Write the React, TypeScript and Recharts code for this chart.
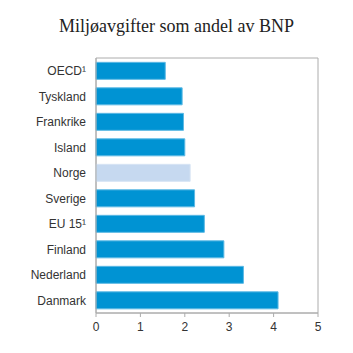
import { BarChart, Bar, XAxis, YAxis, Cell, ReferenceArea } from 'recharts';

const countries = ['OECD¹', 'Tyskland', 'Frankrike', 'Island', 'Norge', 'Sverige', 'EU 15¹', 'Finland', 'Nederland', 'Danmark'];
const shares = [1.56, 1.94, 1.97, 2.0, 2.12, 2.22, 2.44, 2.88, 3.32, 4.1];
const xTicks = [0, 1, 2, 3, 4, 5];
const highlight = 'Norge';

const data = countries.map((name, i) => ({ name, value: shares[i] }));

const FRAME = '#acacac';
const FONT = '"Liberation Sans", Arial, sans-serif';

export default function App() {
  return (
    <div style={{ position: 'absolute', left: 0, top: 0, width: 353, height: 353, background: '#fff' }}>
      <div
        style={{
          position: 'absolute',
          top: 16,
          left: 0,
          width: 353,
          textAlign: 'center',
          fontFamily: '"Liberation Serif", "Times New Roman", serif',
          fontSize: 18,
          color: '#222',
        }}
      >
        Miljøavgifter som andel av BNP
      </div>
      <BarChart
        width={353}
        height={353}
        data={data}
        layout="vertical"
        margin={{ top: 58, right: 35, bottom: 15, left: 0 }}
        barCategoryGap="17%"
      >
        <XAxis
          type="number"
          domain={[0, 5]}
          ticks={xTicks}
          stroke={FRAME}
          height={25}
          tickSize={4}
          tickMargin={5}
          tick={{ fill: '#333', fontSize: 12, fontFamily: FONT }}
        />
        <YAxis
          type="category"
          dataKey="name"
          width={96}
          stroke={FRAME}
          tickLine={false}
          tickMargin={4}
          tick={{ fill: '#333', fontSize: 12, fontFamily: FONT }}
        />
        <ReferenceArea x1={0} x2={5} fill="none" stroke={FRAME} ifOverflow="visible" />
        <Bar dataKey="value" isAnimationActive={false} strokeWidth={1}>
          {data.map((d) => (
            <Cell
              key={d.name}
              fill={d.name === highlight ? '#c6d9f0' : '#0093d3'}
              stroke={d.name === highlight ? '#d6e4f4' : '#5cb9e4'}
            />
          ))}
        </Bar>
      </BarChart>
    </div>
  );
}
